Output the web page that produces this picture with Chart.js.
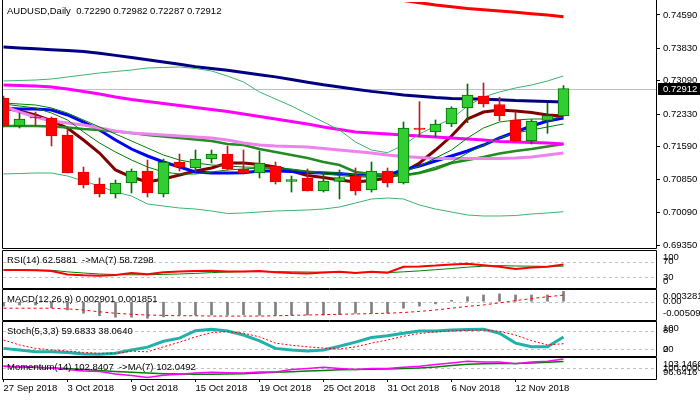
<!DOCTYPE html>
<html>
<head>
<meta charset="utf-8">
<script src="https://cdn.jsdelivr.net/npm/chart.js@4.4.1/dist/chart.umd.min.js"></script>
<style>
html, body { margin: 0; padding: 0; background: #fff; }
#wrap { position: relative; width: 700px; height: 400px; }
#wrap canvas { position: absolute; left: 0; top: 0; }
</style>
</head>
<body>
<div id="wrap">
  <canvas id="cMain" width="700" height="400"></canvas>
  <canvas id="cRsi" width="700" height="400"></canvas>
  <canvas id="cMacd" width="700" height="400"></canvas>
  <canvas id="cStoch" width="700" height="400"></canvas>
  <canvas id="cMom" width="700" height="400"></canvas>
</div>
<script>
// --- data ---
const dates = ['27 Sep 2018', '28 Sep 2018', '1 Oct 2018', '2 Oct 2018', '3 Oct 2018', '4 Oct 2018',
  '5 Oct 2018', '8 Oct 2018', '9 Oct 2018', '10 Oct 2018', '11 Oct 2018', '12 Oct 2018',
  '15 Oct 2018', '16 Oct 2018', '17 Oct 2018', '18 Oct 2018', '19 Oct 2018', '22 Oct 2018',
  '23 Oct 2018', '24 Oct 2018', '25 Oct 2018', '26 Oct 2018', '29 Oct 2018', '30 Oct 2018',
  '31 Oct 2018', '1 Nov 2018', '2 Nov 2018', '5 Nov 2018', '6 Nov 2018', '7 Nov 2018',
  '8 Nov 2018', '9 Nov 2018', '12 Nov 2018', '13 Nov 2018', '14 Nov 2018', '15 Nov 2018'];
const dateTicks = [0, 4, 8, 12, 16, 20, 24, 28, 32];

const openP = [0.72699, 0.72061, 0.72266, 0.72244, 0.71856, 0.71013, 0.70740, 0.70512, 0.70763, 0.71036,
  0.70512, 0.71241, 0.71104, 0.71309, 0.71423, 0.71082, 0.70990, 0.71150, 0.70797, 0.70877,
  0.70580, 0.70797, 0.70922, 0.70603, 0.71036, 0.70763, 0.72016, 0.71925, 0.72107, 0.72471,
  0.72745, 0.72551, 0.72198, 0.71719, 0.72187, 0.72290];
const highP = [0.72745, 0.72357, 0.72380, 0.72266, 0.72016, 0.71127, 0.70877, 0.70831, 0.71082, 0.71287,
  0.71309, 0.71423, 0.71515, 0.71515, 0.71606, 0.71515, 0.71492, 0.71241, 0.70922, 0.71082,
  0.71002, 0.71059, 0.71104, 0.71241, 0.71104, 0.72152, 0.72615, 0.72198, 0.72501, 0.73018,
  0.73041, 0.72715, 0.72387, 0.72209, 0.72578, 0.72982];
const lowP = [0.72038, 0.72016, 0.72061, 0.71606, 0.70990, 0.70649, 0.70444, 0.70421, 0.70535, 0.70444,
  0.70444, 0.71036, 0.71013, 0.71218, 0.71059, 0.70968, 0.70877, 0.70740, 0.70557, 0.70580,
  0.70557, 0.70398, 0.70489, 0.70557, 0.70671, 0.70740, 0.71811, 0.71811, 0.72045, 0.72136,
  0.72494, 0.72182, 0.71708, 0.71651, 0.71895, 0.72287];
const closeP = [0.72061, 0.72221, 0.72244, 0.71833, 0.70990, 0.70717, 0.70512, 0.70763, 0.71036, 0.70535,
  0.71241, 0.71127, 0.71309, 0.71423, 0.71082, 0.70990, 0.71218, 0.70785, 0.70843, 0.70580,
  0.70808, 0.70888, 0.70580, 0.71036, 0.70763, 0.72016, 0.71982, 0.72107, 0.72471, 0.72768,
  0.72562, 0.72296, 0.71719, 0.72175, 0.72300, 0.72912];

const maRed = [0.7580, 0.7576, 0.7573, 0.7569, 0.7566, 0.7562, 0.7559, 0.7555, 0.7552, 0.7548,
  0.7545, 0.7541, 0.7538, 0.7534, 0.7531, 0.7527, 0.7524, 0.7520, 0.7517, 0.7513,
  0.7510, 0.7506, 0.7503, 0.7499, 0.7496, 0.7492, 0.7487, 0.7482, 0.7478, 0.7474,
  0.7471, 0.7468, 0.7465, 0.7462, 0.7459, 0.7455];
const maNavy = [0.7386, 0.7384, 0.7382, 0.7380, 0.7378, 0.7376, 0.7372, 0.7367, 0.7362, 0.7357,
  0.7352, 0.7347, 0.7341, 0.7337, 0.7333, 0.7328, 0.7323, 0.7318, 0.7312, 0.7306,
  0.7300, 0.7295, 0.7290, 0.7285, 0.7281, 0.7277, 0.7274, 0.7271, 0.7269, 0.7268,
  0.7267, 0.7266, 0.7264, 0.7263, 0.7262, 0.7261];
const maMagenta = [0.72995, 0.72984, 0.72973, 0.72950, 0.72904, 0.72847, 0.72790, 0.72722, 0.72665, 0.72619,
  0.72574, 0.72528, 0.72483, 0.72437, 0.72392, 0.72335, 0.72278, 0.72221, 0.72164, 0.72107,
  0.72038, 0.71981, 0.71925, 0.71902, 0.71879, 0.71856, 0.71833, 0.71811, 0.71788, 0.71765,
  0.71742, 0.71708, 0.71697, 0.71685, 0.71674, 0.71651];
const maViolet = [0.72517, 0.72380, 0.72266, 0.72175, 0.72130, 0.72084, 0.72016, 0.71947, 0.71902, 0.71879,
  0.71856, 0.71833, 0.71811, 0.71788, 0.71742, 0.71674, 0.71628, 0.71605, 0.71594, 0.71583,
  0.71549, 0.71514, 0.71480, 0.71446, 0.71400, 0.71366, 0.71343, 0.71321, 0.71321, 0.71321,
  0.71321, 0.71321, 0.71332, 0.71355, 0.71400, 0.71446];
const maBlue = [0.72471, 0.72449, 0.72449, 0.72426, 0.72312, 0.72152, 0.71970, 0.71742, 0.71537, 0.71378,
  0.71241, 0.71127, 0.71013, 0.70990, 0.70990, 0.70997, 0.71036, 0.71036, 0.71025, 0.71002,
  0.70990, 0.70979, 0.70945, 0.70945, 0.70945, 0.71059, 0.71150, 0.71264, 0.71378, 0.71492,
  0.71628, 0.71788, 0.71925, 0.72061, 0.72175, 0.72244];
const maMaroon = [0.72471, 0.72403, 0.72312, 0.72175, 0.72016, 0.71742, 0.71446, 0.71059, 0.70899, 0.70785,
  0.70854, 0.70945, 0.71036, 0.71104, 0.71218, 0.71218, 0.71184, 0.71127, 0.71036, 0.70934,
  0.70888, 0.70831, 0.70785, 0.70820, 0.70877, 0.71013, 0.71218, 0.71514, 0.71833, 0.72221,
  0.72380, 0.72426, 0.72403, 0.72369, 0.72312, 0.72289];
const maFastGreen = [0.72562, 0.72517, 0.72471, 0.72357, 0.72198, 0.71925, 0.71674, 0.71469, 0.71287, 0.71127,
  0.71013, 0.70968, 0.70968, 0.71013, 0.71059, 0.71082, 0.71104, 0.71093, 0.71059, 0.71013,
  0.70968, 0.70934, 0.70900, 0.70900, 0.70900, 0.71013, 0.71150, 0.71332, 0.71514, 0.71788,
  0.72016, 0.72152, 0.72198, 0.72221, 0.72221, 0.72266];
const maSlowGreen = [0.72585, 0.72562, 0.72540, 0.72471, 0.72357, 0.72198, 0.72039, 0.71879, 0.71720, 0.71560,
  0.71400, 0.71287, 0.71218, 0.71173, 0.71150, 0.71127, 0.71116, 0.71104, 0.71082, 0.71036,
  0.71013, 0.70990, 0.70945, 0.70922, 0.70900, 0.70945, 0.71013, 0.71127, 0.71241, 0.71446,
  0.71628, 0.71788, 0.71902, 0.71970, 0.72039, 0.72107];
const bbMid = [0.72061, 0.72061, 0.72061, 0.72050, 0.72027, 0.71993, 0.71970, 0.71936, 0.71902, 0.71856,
  0.71822, 0.71788, 0.71754, 0.71720, 0.71651, 0.71628, 0.71537, 0.71469, 0.71400, 0.71332,
  0.71241, 0.71173, 0.71013, 0.70968, 0.70945, 0.70934, 0.70990, 0.71082, 0.71218, 0.71287,
  0.71355, 0.71435, 0.71492, 0.71537, 0.71594, 0.71651];
const bbUpper = [0.73087, 0.73098, 0.73109, 0.73132, 0.73178, 0.73223, 0.73269, 0.73303, 0.73337, 0.73383,
  0.73394, 0.73405, 0.73371, 0.73314, 0.73200, 0.73064, 0.72836, 0.72676, 0.72517, 0.72335,
  0.72152, 0.71970, 0.71697, 0.71514, 0.71453, 0.71628, 0.71879, 0.72061, 0.72221, 0.72517,
  0.72722, 0.72836, 0.72927, 0.72995, 0.73087, 0.73200];
const bbLower = [0.70968, 0.70979, 0.70990, 0.70990, 0.70922, 0.70808, 0.70694, 0.70557, 0.70466, 0.70284,
  0.70239, 0.70193, 0.70170, 0.70125, 0.70068, 0.70079, 0.70102, 0.70125, 0.70136, 0.70148,
  0.70170, 0.70216, 0.70307, 0.70398, 0.70421, 0.70398, 0.70261, 0.70170, 0.70102, 0.70034,
  0.70011, 0.70011, 0.70022, 0.70057, 0.70079, 0.70109];
const priceTicks = [0.74590, 0.73830, 0.73090, 0.72330, 0.71590, 0.70850, 0.70090, 0.69350];

const rsi = [48.7, 48.7, 48, 46, 37, 35, 34, 36, 41, 38, 43, 45, 46, 47, 45, 45, 46, 43,
  41, 40, 42, 44, 41, 44, 42, 57, 58, 60, 63, 65, 61, 57, 51, 55, 57, 62.5881];
const rsiMa = [49, 49, 48.5, 48, 44, 41, 38.5, 37, 36.5, 36.5, 37.5, 38.5, 40, 42, 43.5, 44.5, 44.5, 44.5,
  44, 43.5, 43, 43, 42.5, 42.5, 42, 44, 46.5, 49.5, 52.5, 56, 58.5, 60, 59, 58.5, 58, 58.7298];

const macdHist = [-0.0012, -0.0009, -0.0009, -0.0017, -0.0023, -0.0032, -0.0039, -0.0043, -0.0043, -0.0046,
  -0.0042, -0.0037, -0.0037, -0.0037, -0.0037, -0.0036, -0.0038, -0.0038, -0.0037, -0.0037,
  -0.0037, -0.0036, -0.0032, -0.0032, -0.0032, -0.0018, -0.0012, -0.0006, 0.0004, 0.0014,
  0.0019, 0.0022, 0.0019, 0.0019, 0.0019, 0.002901];
const macdSignal = [-0.0018, -0.0018, -0.0018, -0.0018, -0.0020, -0.0023, -0.0028, -0.0032, -0.0035, -0.0037,
  -0.0038, -0.0039, -0.0039, -0.0040, -0.0040, -0.0040, -0.0040, -0.0039, -0.0038, -0.0037,
  -0.0036, -0.0035, -0.0034, -0.0033, -0.0032, -0.0030, -0.0027, -0.0023, -0.0018, -0.0013,
  -0.0009, -0.0003, 0.0003, 0.0009, 0.0014, 0.001851];

const stochK = [23, 18, 12, 12, 10, 5, 4, 7, 18, 27, 46, 56, 80, 85, 79, 66, 47, 23,
  18, 14.5, 18, 30, 43, 58, 64, 72, 79, 79, 82, 84, 85, 72, 40, 28, 28, 59.6833];
const stochD = [50, 34, 23, 18, 14.5, 10, 7, 7, 14, 12, 28, 43, 60, 74, 77, 72, 60, 40,
  33, 28, 24, 21, 28, 40, 50, 62, 71, 76, 79, 81, 82, 78, 66, 48, 34, 38.064];

const mom = [100.5, 100.4, 100.2, 100.0, 99.5, 99.0, 98.9, 98.1, 97.6, 97.0, 97.7, 98.0, 98.4, 98.6,
  98.5, 98.4, 98.7, 98.7, 99.5, 99.8, 100.2, 99.8, 99.5, 99.8, 99.8, 100.2, 100.5, 101.1,
  101.6, 102.1, 101.9, 101.9, 101.3, 101.9, 102.1, 102.8407];
const momMa = [100.5, 100.3, 100.2, 100.0, 99.8, 99.5, 99.2, 98.9, 98.6, 98.4, 98.2, 98.1, 98.0, 98.0,
  98.1, 98.2, 98.4, 98.6, 98.8, 99.0, 99.2, 99.4, 99.5, 99.6, 99.7, 99.8, 100.0, 100.3,
  100.8, 101.2, 101.3, 101.4, 101.4, 101.6, 101.8, 102.0492];

// --- chart setup ---
const FONT = "9.5px 'Liberation Sans', Arial, sans-serif";
Chart.defaults.font.family = "'Liberation Sans', Arial, sans-serif";
Chart.defaults.font.size = 9.5;
Chart.defaults.color = '#000';
Chart.defaults.animation = false;
Chart.defaults.plugins.legend.display = false;
Chart.defaults.plugins.tooltip.enabled = false;

const X_MIN = -0.03125, X_MAX = 40.78125;

const pts = arr => arr.map((v, i) => ({x: i, y: v}));

function line(data, color, width, dash, order) {
    return {
        type: 'line', data: pts(data), borderColor: color, borderWidth: width,
        borderDash: dash || [], pointRadius: 0, tension: 0, fill: false, order: order || 5
    };
}

function xAxis() {
    return {type: 'linear', min: X_MIN, max: X_MAX, offset: false, display: false};
}

function yAxis(min, max) {
    return {
        position: 'right', min: min, max: max,
        border: {display: false},
        grid: {drawOnChartArea: false, drawTicks: false},
        ticks: {display: false},
        afterFit: function (s) { s.width = 44; s.paddingTop = 0; s.paddingBottom = 0; }
    };
}

// borders, captions, level lines and the axis labels that MT4 clamps into the panel
const panelDeco = {
    id: 'panelDeco',
    beforeDatasetsDraw: function (chart, args, o) {
        const ctx = chart.ctx, a = chart.chartArea, y = chart.scales.y;
        ctx.save();
        ctx.lineWidth = 1;
        ctx.strokeStyle = '#c0c0c0';
        if (o.lastClose != null) {
            const py = Math.round(y.getPixelForValue(o.lastClose)) + 0.5;
            ctx.beginPath(); ctx.moveTo(a.left, py); ctx.lineTo(a.right, py); ctx.stroke();
        }
        ctx.setLineDash([3, 3]);
        (o.levels || []).forEach(function (v) {
            const py = Math.round(y.getPixelForValue(v)) + 0.5;
            ctx.beginPath(); ctx.moveTo(a.left, py); ctx.lineTo(a.right, py); ctx.stroke();
        });
        ctx.restore();
    },
    afterDraw: function (chart, args, o) {
        const ctx = chart.ctx, a = chart.chartArea, y = chart.scales.y;
        ctx.save();
        ctx.strokeStyle = '#000';
        ctx.lineWidth = 1;
        ctx.beginPath();
        if (o.openTop) {
            ctx.moveTo(a.left - 0.5, 0);
            ctx.lineTo(a.left - 0.5, a.bottom + 0.5);
            ctx.lineTo(a.right + 0.5, a.bottom + 0.5);
            ctx.lineTo(a.right + 0.5, 0);
        } else {
            ctx.rect(a.left - 0.5, a.top - 0.5, a.right - a.left + 1, a.bottom - a.top + 1);
        }
        ctx.stroke();
        ctx.font = FONT;
        ctx.fillStyle = '#000';
        ctx.textBaseline = 'middle';
        ctx.textAlign = 'left';
        ctx.fillText(o.title, a.left + 4, a.top + 9);
        (o.sideLabels || []).forEach(function (l) {
            const py = Math.min(Math.max(y.getPixelForValue(l.v), a.top + 6), a.bottom - 7);
            ctx.fillText(l.text, a.right + 7, py);
        });
        if (o.lastClose != null) {
            const py = Math.round(y.getPixelForValue(o.lastClose));
            ctx.fillStyle = '#000';
            ctx.fillRect(a.right + 2, py - 6, chart.width - a.right - 2, 12);
            ctx.fillStyle = '#fff';
            ctx.fillText(o.lastClose.toFixed(5), a.right + 7, py + 0.5);
        }
        ctx.restore();
    }
};

function pad(top, bottom) {
    return {padding: {left: 3, right: 0, top: top, bottom: 400 - bottom}};
}

// main price panel
const bull = closeP.map((c, i) => c >= openP[i]);
new Chart(document.getElementById('cMain'), {
    type: 'bar',
    data: {
        datasets: [
            {
                type: 'bar', data: lowP.map((l, i) => ({x: i, y: [l, highP[i]]})),
                backgroundColor: bull.map(b => b ? '#007000' : '#b22222'),
                maxBarThickness: 1, categoryPercentage: 1, barPercentage: 1, grouped: false, order: 2
            },
            {
                type: 'bar', data: openP.map((o, i) => ({x: i, y: [o, closeP[i]]})),
                backgroundColor: bull.map(b => b ? '#32cd32' : '#ff0000'),
                borderColor: bull.map(b => b ? '#007000' : '#e00000'),
                borderWidth: 1, borderSkipped: false,
                maxBarThickness: 11, categoryPercentage: 1, barPercentage: 1, grouped: false, order: 1
            },
            line(bbUpper, '#3cb371', 1),
            line(bbLower, '#3cb371', 1),
            line(maSlowGreen, '#008000', 1),
            line(maFastGreen, '#008000', 1),
            line(maViolet, '#ee82ee', 3),
            line(maMagenta, '#ff00ff', 3),
            line(bbMid, '#228b22', 2.5),
            line(maBlue, '#0000ff', 3),
            line(maMaroon, '#800000', 3),
            line(maNavy, '#000080', 3),
            line(maRed, '#ff0000', 3)
        ]
    },
    options: {
        responsive: false,
        layout: pad(2, 248),
        scales: {
            x: xAxis(),
            y: {
                position: 'right', min: 0.69282, max: 0.74886,
                border: {display: false},
                grid: {drawOnChartArea: false, drawTicks: true, tickLength: 4, color: '#000'},
                ticks: {padding: 3, autoSkip: false, callback: v => v.toFixed(5)},
                afterBuildTicks: function (s) { s.ticks = priceTicks.map(v => ({value: v})); },
                afterFit: function (s) { s.width = 44; s.paddingTop = 0; s.paddingBottom = 0; }
            }
        },
        plugins: {
            panelDeco: {
                title: 'AUDUSD,Daily  ' + [openP[35], highP[35], lowP[35], closeP[35]].map(v => v.toFixed(5)).join(' '),
                lastClose: closeP[35],
                openTop: true
            }
        }
    },
    plugins: [panelDeco]
});

// RSI
new Chart(document.getElementById('cRsi'), {
    type: 'line',
    data: {datasets: [line(rsiMa, '#008000', 1, null, 6), line(rsi, '#ff0000', 2)]},
    options: {
        responsive: false,
        layout: pad(251, 288),
        scales: {x: xAxis(), y: yAxis(2.56, 97.44)},
        plugins: {
            panelDeco: {
                title: 'RSI(14) ' + rsi[35].toFixed(4) + '  ->MA(7) ' + rsiMa[35].toFixed(4),
                levels: [70, 30],
                sideLabels: [{v: 100, text: '100'}, {v: 70, text: '70'}, {v: 30, text: '30'}, {v: 0, text: '0'}]
            }
        }
    },
    plugins: [panelDeco]
});

// MACD
new Chart(document.getElementById('cMacd'), {
    type: 'bar',
    data: {
        datasets: [
            {
                type: 'bar', data: pts(macdHist), backgroundColor: '#808080',
                maxBarThickness: 2, categoryPercentage: 1, barPercentage: 1, grouped: false, order: 2
            },
            line(macdSignal, '#ff0000', 1, [3, 3], 1)
        ]
    },
    options: {
        responsive: false,
        layout: pad(290, 320),
        scales: {x: xAxis(), y: yAxis(-0.005091, 0.003281)},
        plugins: {
            panelDeco: {
                title: 'MACD(12,26,9) ' + macdHist[35].toFixed(6) + ' ' + macdSignal[35].toFixed(6),
                levels: [0],
                sideLabels: [{v: 0.003281, text: '0.003281'}, {v: 0, text: '0.00'}, {v: -0.005091, text: '-0.005091'}]
            }
        }
    },
    plugins: [panelDeco]
});

// Stochastic
new Chart(document.getElementById('cStoch'), {
    type: 'line',
    data: {datasets: [line(stochD, '#ff0000', 1, [2, 2], 4), line(stochK, '#20b2aa', 3)]},
    options: {
        responsive: false,
        layout: pad(322, 356),
        scales: {x: xAxis(), y: yAxis(-1.6, 108.06)},
        plugins: {
            panelDeco: {
                title: 'Stoch(5,3,3) ' + stochK[35].toFixed(4) + ' ' + stochD[35].toFixed(4),
                levels: [80, 20],
                sideLabels: [{v: 100, text: '100'}, {v: 80, text: '80'}, {v: 20, text: '20'}, {v: 0, text: '0'}]
            }
        }
    },
    plugins: [panelDeco]
});

// Momentum + date axis
new Chart(document.getElementById('cMom'), {
    type: 'line',
    data: {datasets: [line(momMa, '#008000', 1.5, null, 6), line(mom, '#ff00ff', 1.5)]},
    options: {
        responsive: false,
        layout: {padding: {left: 3, right: 0, top: 358, bottom: 0}},
        scales: {
            x: {
                type: 'linear', min: X_MIN, max: X_MAX, offset: false,
                border: {display: false},
                grid: {drawOnChartArea: false, drawTicks: true, tickLength: 3, color: '#000'},
                ticks: {align: 'start', padding: 1, autoSkip: false, maxRotation: 0, font: {size: 9.5},
                    callback: v => dates[v]},
                afterBuildTicks: function (s) { s.ticks = dateTicks.map(v => ({value: v})); },
                afterFit: function (s) { s.height = 21; s.paddingLeft = 0; s.paddingRight = 0; }
            },
            y: yAxis(96.50, 103.1466)
        },
        plugins: {
            panelDeco: {
                title: 'Momentum(14) ' + mom[35].toFixed(4) + '  ->MA(7) ' + momMa[35].toFixed(4),
                levels: [100],
                sideLabels: [{v: 103.1466, text: '103.1466'}, {v: 100, text: '100.0000'}, {v: 96.50, text: '96.6416'}]
            }
        }
    },
    plugins: [panelDeco]
});
</script>
</body>
</html>
